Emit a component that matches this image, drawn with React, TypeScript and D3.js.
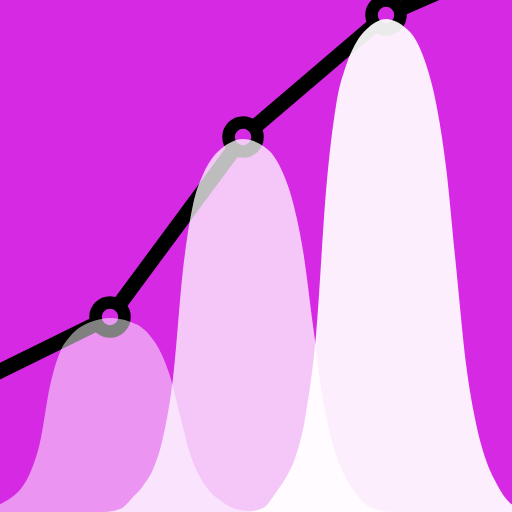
import React from "react";
import * as d3 from "d3";

// Line series (x positions in data units, values)
const lineX = [0, 1, 1.964, 3.0, 4.0];
const lineValues = [25.4, 39, 75, 99.4, 111.4];

// Distribution (bell) series: centre and peak
const bellCenters = [1, 1.964, 3.0];
const bellPeaks = [38.8, 74.6, 98.6];
const bellOpacity = [0.5, 0.74, 0.92];

// Shared distribution profile: distance from centre (data units) and relative density
const profileDist = [
  0, 0.072, 0.145, 0.217, 0.29, 0.362, 0.435, 0.507, 0.58, 0.652, 0.725, 0.797,
  0.87, 0.942, 1.014, 1.087,
];
const densityLeft = [
  1, 0.994, 0.978, 0.952, 0.905, 0.825, 0.65, 0.36, 0.2, 0.115, 0.07, 0.04,
  0.012, 0.003, 0, 0,
];
const densityRight = [
  1, 0.995, 0.981, 0.957, 0.908, 0.83, 0.7, 0.5, 0.3, 0.18, 0.105, 0.06, 0.027,
  0.01, 0.003, 0,
];

const BG = "#d629e4";
const W = 512;
const H = 512;

export default function App() {
  const x = d3.scaleLinear().domain([0, 4]).range([-28, 524]);
  const y = d3.scaleLinear().domain([0, 100]).range([512, 12]);

  const pts = lineX.map((v, i) => [v, lineValues[i]] as [number, number]);
  const line = d3
    .line<[number, number]>()
    .x((d) => x(d[0]))
    .y((d) => y(d[1]))
    .curve(d3.curveLinear);

  const area = d3
    .area<[number, number]>()
    .x((d) => x(d[0]))
    .y0(y(0))
    .y1((d) => y(d[1]))
    .curve(d3.curveMonotoneX);

  return (
    <svg
      width={W}
      height={H}
      style={{ position: "absolute", left: 0, top: 0, display: "block" }}
    >
      <rect x={0} y={0} width={W} height={H} fill={BG} />
      <path
        d={line(pts) || ""}
        fill="none"
        stroke="#000"
        strokeWidth={15}
        strokeLinejoin="round"
      />
      {pts.map((p, i) => (
        <circle
          key={i}
          cx={x(p[0])}
          cy={y(p[1])}
          r={14.5}
          fill={BG}
          stroke="#000"
          strokeWidth={12.5}
        />
      ))}
      {bellCenters.map((c, i) => {
        const left = profileDist
          .slice(1)
          .map((o, j) => [c - o, densityLeft[j + 1] * bellPeaks[i]] as [number, number])
          .reverse();
        const right = profileDist.map(
          (o, j) => [c + o, densityRight[j] * bellPeaks[i]] as [number, number]
        );
        const data = [...left, ...right];
        return (
          <path
            key={i}
            d={area(data) || ""}
            fill="#fff"
            fillOpacity={bellOpacity[i]}
          />
        );
      })}
    </svg>
  );
}
